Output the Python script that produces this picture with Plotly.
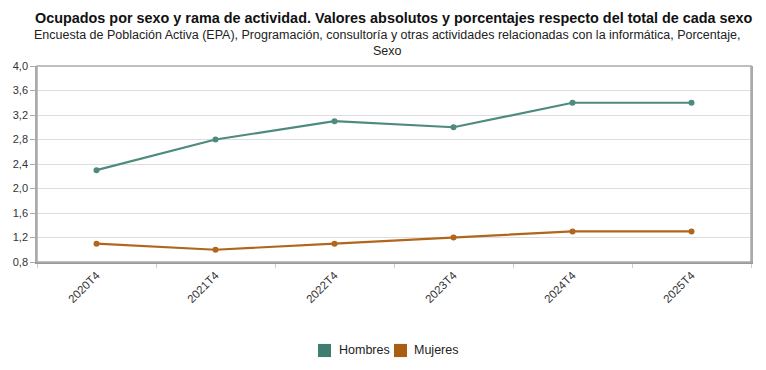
import plotly.graph_objects as go

categories = ["2020T4", "2021T4", "2022T4", "2023T4", "2024T4", "2025T4"]
hombres = [2.3, 2.8, 3.1, 3.0, 3.4, 3.4]
mujeres = [1.1, 1.0, 1.1, 1.2, 1.3, 1.3]
y_ticks = [0.8, 1.2, 1.6, 2.0, 2.4, 2.8, 3.2, 3.6, 4.0]
series_names = ["Hombres", "Mujeres"]

c_h = "#4e8a7e"
c_m = "#b0661c"
leg_colors = ["#3f7d70", "#a95e12"]

fig = go.Figure()
for name, vals, col in [(series_names[0], hombres, c_h), (series_names[1], mujeres, c_m)]:
    fig.add_trace(go.Scatter(x=categories, y=vals, mode="lines+markers", name=name,
                             line=dict(color=col, width=2.2), marker=dict(color=col, size=6),
                             showlegend=False))

# page body has an 8px margin, so the figure is sized to fit inside the window
fig.update_layout(
    width=750, height=354,
    margin=dict(l=29, r=7, t=58, b=100, autoexpand=False),
    paper_bgcolor="white", plot_bgcolor="white",
    separators=",.",
    font=dict(family="Liberation Sans, Arial, sans-serif", size=11, color="#333"),
    showlegend=False,
)
fig.add_annotation(text="<b>Ocupados por sexo y rama de actividad. Valores absolutos y porcentajes respecto del total de cada sexo</b>",
                   xref="paper", yref="paper", x=0.5, y=1, yshift=48, xanchor="center", yanchor="middle",
                   showarrow=False, font=dict(size=14.4, color="#111"))
fig.add_annotation(text="Encuesta de Población Activa (EPA), Programación, consultoría y otras actividades relacionadas con la informática, Porcentaje,<br>Sexo",
                   xref="paper", yref="paper", x=0.49, y=1, yshift=23.5, xanchor="center", yanchor="middle",
                   showarrow=False, font=dict(size=12.5, color="#222"))

# custom legend
leg_sq_x = [0.3936, 0.5]
leg_tx_x = [0.4202, 0.5252]
for i, name in enumerate(series_names):
    fig.add_shape(type="rect", xref="paper", yref="paper",
                  x0=leg_sq_x[i], x1=leg_sq_x[i] + 0.0182, y0=-0.485, y1=-0.418,
                  fillcolor=leg_colors[i], line=dict(width=0))
    fig.add_annotation(text=name, xref="paper", yref="paper", x=leg_tx_x[i], y=-0.4515,
                       xanchor="left", yanchor="middle", showarrow=False,
                       font=dict(size=12.5, color="#222"))

fig.update_xaxes(type="category", range=[-0.5, 5.5], tickangle=-45, showgrid=False,
                 automargin=False, tickson="boundaries",
                 showline=True, linecolor="#999", linewidth=2, mirror=False,
                 ticks="outside", ticklen=4, tickcolor="#ccc",
                 tickfont=dict(size=11.5, color="#333"))
fig.update_yaxes(range=[0.8, 4.0], tickvals=y_ticks, tickformat=".1f", automargin=False,
                 showgrid=True, gridcolor="#ddd", gridwidth=1,
                 showline=True, linecolor="#aaa", linewidth=1.5, mirror=True,
                 ticks="outside", ticklen=5, tickcolor="#aaa", zeroline=False,
                 tickfont=dict(size=11, color="#333"))
fig.add_shape(type="rect", xref="paper", yref="paper", x0=0, x1=1, y0=0, y1=1,
              line=dict(color="#aaa", width=1.5))

fig.write_html("out.html")
